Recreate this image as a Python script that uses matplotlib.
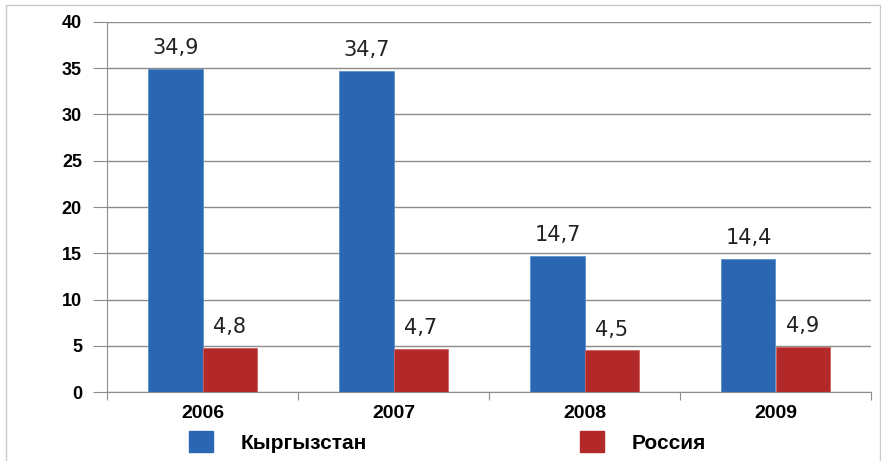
import matplotlib.pyplot as plt
import numpy as np
from matplotlib.patches import Patch, Rectangle
from matplotlib import font_manager

years = ['2006', '2007', '2008', '2009']
kyrgyzstan = [34.9, 34.7, 14.7, 14.4]
russia = [4.8, 4.7, 4.5, 4.9]
series_names = ['Кыргызстан', 'Россия']

blue = '#2a66b2'
red = '#b3292a'
grid_col = '#8c8c8c'

names = {f.name for f in font_manager.fontManager.ttflist}
narrow = 'Liberation Sans Narrow' if 'Liberation Sans Narrow' in names else 'Liberation Sans'

fig = plt.figure(figsize=(8.81, 4.61), dpi=100)
ax = fig.add_axes([107/881, 1 - 392/461, (871 - 107)/881, (392 - 22)/461])

x = np.arange(len(years))
w = 0.283
b1 = ax.bar(x - w/2, kyrgyzstan, w, color=blue, edgecolor='#5b8fd0', linewidth=0.6, zorder=3)
b2 = ax.bar(x + w/2, russia, w, color=red, edgecolor='#d06060', linewidth=0.6, zorder=3)

for bars, vals in [(b1, kyrgyzstan), (b2, russia)]:
    for r, v in zip(bars, vals):
        ax.annotate(f'{v:.1f}'.replace('.', ','), (r.get_x() + r.get_width()/2, v),
                    xytext=(0, 15), textcoords='offset points', ha='center', va='center',
                    fontsize=15, color='#222222', family='DejaVu Sans')

ax.set_xlim(-0.5, 3.5)
ax.set_ylim(0, 40)
ax.set_yticks(range(0, 41, 5))
ax.yaxis.grid(True, color=grid_col, linewidth=1, zorder=0)
ax.set_axisbelow(True)

for s in ['top', 'right']:
    ax.spines[s].set_visible(False)
ax.spines['left'].set_color(grid_col)
ax.spines['bottom'].set_color(grid_col)

ax.tick_params(axis='y', length=10, color=grid_col, pad=8, labelsize=13)
for lab in ax.get_yticklabels():
    lab.set_fontweight('bold')
    lab.set_family('Liberation Sans')

# category boundary ticks on the x axis, labels in the middle
ax.set_xticks(np.arange(-0.5, 4, 1))
ax.set_xticklabels([])
ax.set_xticks(x, minor=True)
ax.set_xticklabels(years, minor=True)
ax.tick_params(axis='x', which='major', length=6, color=grid_col)
ax.tick_params(axis='x', which='minor', length=0, pad=9, labelsize=14)
for lab in ax.get_xticklabels(minor=True):
    lab.set_fontweight('bold')
    lab.set_family(narrow)

handles = [Patch(color=blue), Patch(color=red)]
fig.legend(handles, series_names, loc='center left', bbox_to_anchor=(170/881, 1 - 442/461),
           ncol=2, frameon=False, handlelength=1.15, handleheight=1.15,
           handletextpad=1.35, columnspacing=10.2,
           prop={'family': narrow, 'weight': 'bold', 'size': 15})

fig.patches.append(Rectangle((6/881, -0.1), (880 - 6)/881, 1.1 - 5/461, transform=fig.transFigure,
                             fill=False, edgecolor='#c8c8c8', linewidth=1))

fig.savefig('out.png', dpi=100)
